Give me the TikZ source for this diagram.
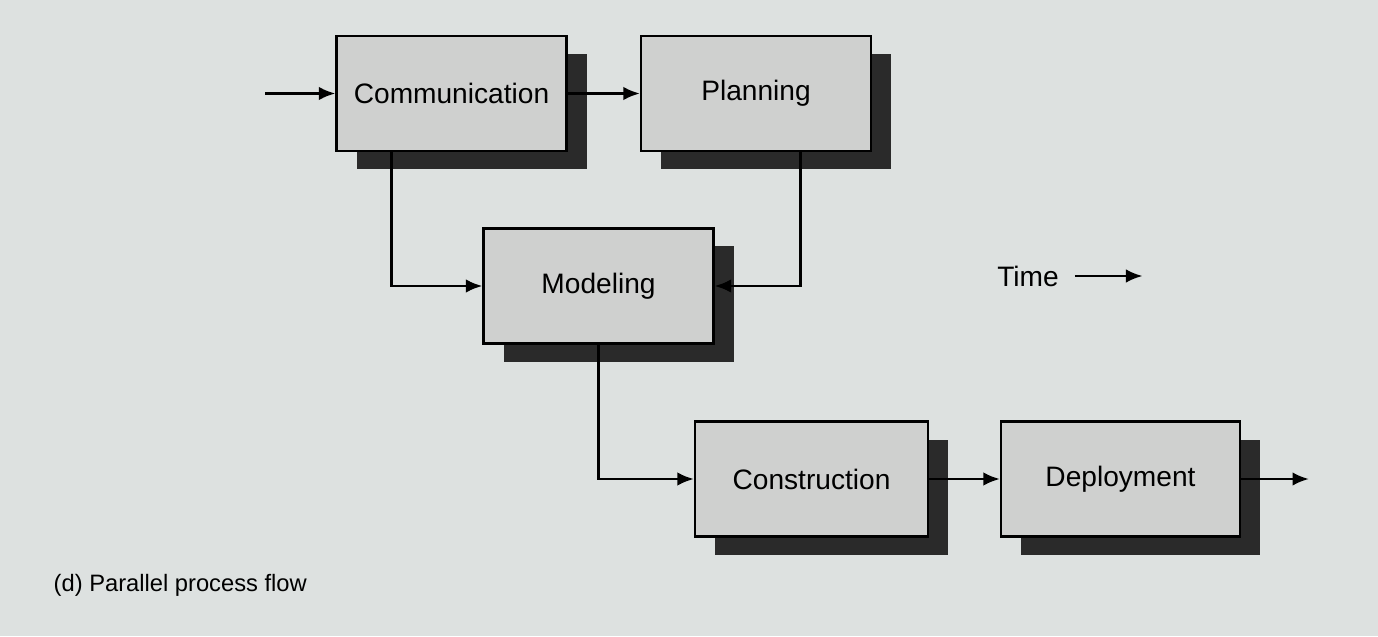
\documentclass[tikz,border=0pt]{standalone}
\usepackage{fontspec}
\setmainfont{Liberation Sans}
\usepackage{xcolor}
\usepackage{tikz}
\usetikzlibrary{arrows.meta}
\usetikzlibrary{positioning}
\usetikzlibrary{shadows}
\usetikzlibrary{calc}
\definecolor{papier}{RGB}{221,225,224}
\definecolor{grisboite}{RGB}{207,208,207}
\definecolor{ombre}{RGB}{42,42,42}
\tikzset{
    boite/.style = {rectangle, draw, line width=1.2pt, fill=grisboite,
        minimum width=4.6cm, minimum height=2.3cm,
        font=\fontsize{16}{19}\selectfont,
        general shadow={shadow xshift=0.4cm, shadow yshift=-0.36cm, fill=ombre}},
    fleche/.style = {->, line width=1.6pt},
    >={Latex[length=0.33cm, width=0.27cm]}
}

\begin{document}
\begin{tikzpicture}
    \fill [papier] (0,0) rectangle (27.56,12.72);
    \useasboundingbox (0,0) rectangle (27.56,12.72);
    % les etapes
    \node (comm) [boite] at (9.03,10.85) {Communication};
    \node (plan) [boite] at (15.12,10.85) {Planning};
    \node (model) [boite] at (11.97,7.0) {Modeling};
    \node (constr) [boite, minimum width=4.66cm] at (16.23,3.14) {Construction};
    \node (deploy) [boite, minimum width=4.78cm] at (22.41,3.14) {Deployment};
    \coordinate [left=1.4cm of comm] (entree);
    \coordinate [right=1.36cm of deploy] (sortie);
    % le temps
    \node (temps) [font=\fontsize{16}{19}\selectfont] at (20.56,7.2) {Time};
    \coordinate [right=1.55cm of temps] (tfin);
    \node (legende) [anchor=west, font=\fontsize{13.5}{16}\selectfont] at (0.95,1.02) {(d) Parallel process flow};
    % les fleches
    \draw [fleche] (entree) -- (comm);
    \draw [fleche] (comm) -- (plan);
    \draw [fleche] ($(comm.south west)!0.24!(comm.south east)$) |- (model);
    \draw [fleche] ($(plan.south west)!0.69!(plan.south east)$) |- (model);
    \draw [fleche] (model) |- (constr);
    \draw [fleche] (constr) -- (deploy);
    \draw [fleche] (deploy) -- (sortie);
    \draw [->, line width=1.2pt, shorten <=0.2cm] (temps) -- (tfin);
\end{tikzpicture}
\end{document}
